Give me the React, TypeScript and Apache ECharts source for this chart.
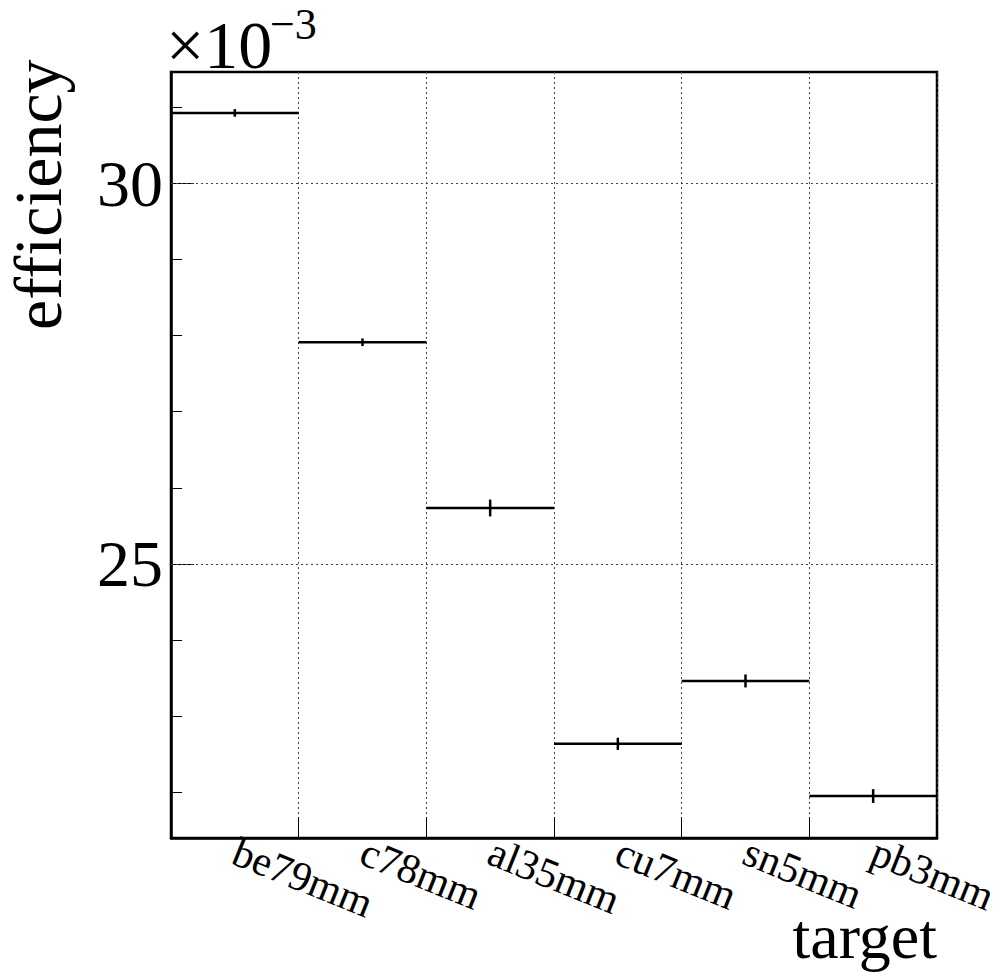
import React, { useEffect, useRef } from "react";
import * as echarts from "echarts";

const targets = ["be79mm", "c78mm", "al35mm", "cu7mm", "sn5mm", "pb3mm"];
// efficiency in units of 1e-3
const efficiency = [30.92, 27.91, 25.735, 22.64, 23.465, 21.955];
const efficiencyErr = [0.05, 0.05, 0.11, 0.08, 0.085, 0.09];
const yMin = 21.404;
const yMax = 31.457;
const majorTicks = [25, 30];
const minorTicks = [22, 23, 24, 25, 26, 27, 28, 29, 30, 31];

const FONT = "Liberation Serif";

export default function App() {
  const ref = useRef<HTMLDivElement>(null);
  useEffect(() => {
    if (!ref.current) return;
    const chart = echarts.init(ref.current, null, { renderer: "svg" });
    const data = efficiency.map((v, i) => [i, v, efficiencyErr[i]]);
    chart.setOption({
      animation: false,
      backgroundColor: "#ffffff",
      grid: {
        left: 171,
        top: 72,
        width: 766,
        height: 766,
        show: true,
        borderColor: "#000",
        borderWidth: 2.5,
        backgroundColor: "transparent",
        outerBoundsMode: "none",
        containLabel: false,
      },
      xAxis: {
        type: "category",
        data: targets,
        boundaryGap: true,
        axisLine: { show: true, lineStyle: { color: "#000", width: 2.5 } },
        axisTick: { show: true, inside: true, length: 21, interval: 0, lineStyle: { color: "#000", width: 1 } },
        axisLabel: {
          interval: 0,
          rotate: -22,
          fontFamily: FONT,
          fontSize: 42,
          color: "#000",
          margin: 12,
        },
        splitLine: { show: true, interval: 0, lineStyle: { color: "#444", type: [2, 3], width: 1 } },
      },
      yAxis: [
        {
          type: "value",
          min: yMin,
          max: yMax,
          axisLine: { show: true, lineStyle: { color: "#000", width: 2.5 } },
          axisTick: { show: true, inside: true, length: 23, customValues: majorTicks, lineStyle: { color: "#000", width: 1 } },
          axisLabel: { customValues: majorTicks, fontFamily: FONT, fontSize: 66, color: "#000", margin: 8 },
          splitLine: { show: false },
        },
        {
          type: "value",
          min: yMin,
          max: yMax,
          position: "left",
          offset: 0,
          axisLine: { show: false },
          axisTick: { show: true, inside: true, length: 11, customValues: minorTicks, lineStyle: { color: "#000", width: 1 } },
          axisLabel: { show: false },
          splitLine: { show: false },
        },
      ],
      series: [
        {
          type: "custom",
          xAxisIndex: 0,
          yAxisIndex: 0,
          data,
          silent: true,
          markLine: {
            silent: true,
            symbol: "none",
            label: { show: false },
            lineStyle: { color: "#444", type: [2, 3], width: 1 },
            data: majorTicks.map((v) => ({ yAxis: v })),
          },
          renderItem: (params: any, api: any) => {
            const idx = api.value(0);
            const v = api.value(1);
            const e = api.value(2);
            const c = api.coord([idx, v]);
            const bw = api.size([1, 0])[0];
            const top = api.coord([idx, v + e]);
            const bot = api.coord([idx, v - e]);
            return {
              type: "group",
              children: [
                {
                  type: "line",
                  shape: { x1: c[0] - bw / 2, y1: c[1], x2: c[0] + bw / 2, y2: c[1] },
                  style: { stroke: "#000", lineWidth: 2.5 },
                },
                {
                  type: "line",
                  shape: { x1: c[0], y1: top[1], x2: c[0], y2: bot[1] },
                  style: { stroke: "#000", lineWidth: 2.5 },
                },
              ],
            };
          },
        },
      ],
      graphic: [
        {
          type: "text",
          x: 72,
          y: 330,
          rotation: Math.PI / 2,
          style: {
            text: "efficiency",
            fontFamily: FONT,
            fontSize: 68,
            fill: "#000",
            align: "left",
            verticalAlign: "bottom",
          },
        },
        {
          type: "text",
          x: 937,
          y: 968,
          style: {
            text: "target",
            fontFamily: FONT,
            fontSize: 64,
            fill: "#000",
            align: "right",
            verticalAlign: "bottom",
          },
        },
        {
          type: "text",
          x: 166,
          y: 79,
          style: {
            text: "×10",
            fontFamily: FONT,
            fontSize: 68,
            fill: "#000",
            align: "left",
            verticalAlign: "bottom",
          },
        },
        {
          type: "text",
          x: 270,
          y: 2,
          style: {
            text: "−3",
            fontFamily: FONT,
            fontSize: 44,
            fill: "#000",
            align: "left",
            verticalAlign: "top",
          },
        },
      ],
    });
    return () => chart.dispose();
  }, []);
  return (
    <div
      ref={ref}
      style={{ position: "fixed", left: 0, top: 0, width: 1001, height: 977 }}
    />
  );
}
